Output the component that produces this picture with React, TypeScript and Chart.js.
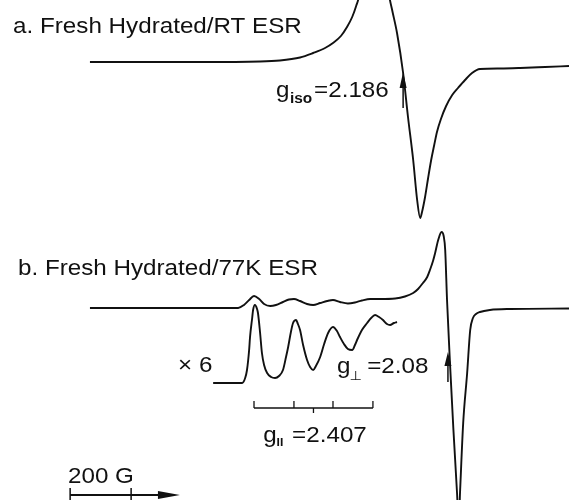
import { useEffect, useRef } from "react";
import { Chart, registerables } from "chart.js";

Chart.register(...registerables);

// ---- axes (magnetic field in gauss, vertical offset in arbitrary units) ----
const FIELD_MIN = 1800;
const FIELD_MAX = 3666;
const Y_MIN = 0;
const Y_MAX = 500;

// ---- a. Fresh hydrated / RT ESR (first-derivative signal) ----
const rtField = [2095, 2292, 2456, 2653, 2718, 2784, 2827, 2866, 2892, 2918, 2938, 2955, 2968, 2978, 2991, 3007, 3027, 3046, 3063, 3076, 3086, 3102, 3122, 3138, 3155, 3168, 3178, 3184, 3194, 3204, 3214, 3224, 3233, 3246, 3263, 3283, 3302, 3325, 3348, 3374, 3440, 3506, 3588, 3666];
const rtSignal = [0, 0, 0, 0.5, 1.5, 4.5, 9, 14, 19, 26, 35, 45, 56, 67, 102, 137, 152, 137, 102, 67, 52, 29, -11, -55, -98, -138, -156, -150, -135, -116, -98, -83, -70, -57, -44, -33, -26, -18, -11, -7, -6.5, -6, -5, -4];
const RT_OFFSET = 438;

// ---- b. Fresh hydrated / 77K ESR ----
const lowTField = [2095, 2456, 2581, 2600, 2617, 2633, 2650, 2666, 2686, 2705, 2728, 2748, 2764, 2784, 2807, 2827, 2850, 2873, 2892, 2915, 2941, 2964, 2987, 3014, 3046, 3096, 3128, 3155, 3171, 3187, 3201, 3210, 3220, 3227, 3237, 3248, 3255, 3260, 3266, 3276, 3287, 3299, 3304, 3309, 3319, 3332, 3342, 3351, 3361, 3374, 3407, 3473, 3666];
const lowTSignal = [0, 0, 0, 3, 8, 12, 9, 4, 2, 3, 6, 8.5, 9, 7, 4, 3, 5, 7, 8, 6, 4.5, 5.5, 7.5, 9, 9, 9.5, 11.5, 15, 19, 25, 31, 38, 47, 55, 68, 76, 72, 58, 8, -57, -122, -186, -217, -182, -115, -65, -22, -10, -6, -4, -2, -1, -0.5];
const LOWT_OFFSET = 192;

// ---- x6 expansion of the parallel region ----
const insetField = [2499, 2594, 2604, 2610, 2617, 2620, 2627, 2630, 2636, 2643, 2646, 2653, 2659, 2666, 2676, 2689, 2702, 2715, 2728, 2738, 2745, 2754, 2761, 2771, 2777, 2784, 2794, 2807, 2817, 2827, 2836, 2850, 2863, 2876, 2892, 2905, 2915, 2928, 2941, 2955, 2964, 2971, 2987, 3004, 3017, 3030, 3043, 3056, 3069, 3079, 3092, 3102];
const insetSignal = [0, 0, 5, 13, 33, 46, 65, 73, 78, 74, 70, 50, 30, 18, 10, 6, 5, 7, 13, 26, 36, 51, 60, 63, 59, 53, 38, 23, 16, 13, 17, 26, 39, 50, 56, 52, 46, 39, 34, 33, 38, 43, 53, 60, 65, 68, 66, 63, 59, 58, 60, 61];
const INSET_OFFSET = 117;

// ---- hyperfine bracket (g parallel), scale bar, g markers ----
const hyperfineLines = [2633, 2764, 2892, 3023];
const gParallelField = 2828;
const BRACKET_LEVEL = 92;
const scaleBarStart = 2030;
const scaleBarLength = 200;
const scaleBarArrowEnd = 2390;
const SCALE_LEVEL = 5;
const gIsoField = 3122;
const gPerpField = 3269;

const INK = "#111";
const FONT = '"Liberation Sans", Arial, Helvetica, sans-serif';
const TEXT_STRETCH = 1.1;

type Lbl = { text: string; field: number; y: number; font: string };
const labels: Lbl[] = [
  { text: "a. Fresh Hydrated/RT ESR", field: 1843, y: 467, font: `22px ${FONT}` },
  { text: "b. Fresh Hydrated/77K ESR", field: 1859, y: 225, font: `22px ${FONT}` },
  { text: "g", field: 2705, y: 403, font: `22px ${FONT}` },
  { text: "iso", field: 2751, y: 397, font: `bold 14px ${FONT}` },
  { text: "=2.186", field: 2830, y: 403, font: `22px ${FONT}` },
  { text: "\u00d7 6", field: 2384, y: 128, font: `22px ${FONT}` },
  { text: "g", field: 2905, y: 127, font: `22px ${FONT}` },
  { text: "\u22a5", field: 2946, y: 120, font: `13px "DejaVu Sans", sans-serif` },
  { text: "=2.08", field: 3004, y: 127, font: `22px ${FONT}` },
  { text: "g", field: 2663, y: 58, font: `22px ${FONT}` },
  { text: "II", field: 2707, y: 54, font: `bold 11px ${FONT}` },
  { text: "=2.407", field: 2758, y: 58, font: `22px ${FONT}` },
  { text: "200 G", field: 2023, y: 17, font: `22px ${FONT}` },
];

function traceData(field: number[], signal: number[], offset: number) {
  return field.map((f, i) => ({ x: f, y: offset + signal[i] }));
}

function seg(x1: number, y1: number, x2: number, y2: number, width: number) {
  return {
    data: [{ x: x1, y: y1 }, { x: x2, y: y2 }],
    borderColor: INK,
    borderWidth: width,
    pointRadius: 0,
    showLine: true,
    tension: 0,
  };
}

const annotationPlugin = {
  id: "esrAnnotations",
  afterDatasetsDraw(chart: any) {
    const { ctx } = chart;
    const xs = chart.scales.x;
    const ys = chart.scales.y;
    const X = (v: number) => xs.getPixelForValue(v);
    const Y = (v: number) => ys.getPixelForValue(v);
    ctx.save();
    ctx.fillStyle = INK;
    // upward arrow heads (g markers)
    const heads = [
      { field: gIsoField, tip: 428, len: 16, half: 3.5 },
      { field: gPerpField, tip: 148, len: 14, half: 3.5 },
    ];
    for (const h of heads) {
      const px = X(h.field);
      const tip = Y(h.tip);
      const base = Y(h.tip - h.len);
      ctx.beginPath();
      ctx.moveTo(px, tip);
      ctx.lineTo(px - h.half, base);
      ctx.lineTo(px + h.half, base);
      ctx.closePath();
      ctx.fill();
    }
    // right arrow head of the field-direction bar
    {
      const tipX = X(scaleBarArrowEnd);
      const baseX = X(scaleBarArrowEnd - 72);
      const yy = Y(SCALE_LEVEL);
      ctx.beginPath();
      ctx.moveTo(tipX, yy);
      ctx.lineTo(baseX, yy - 4);
      ctx.lineTo(baseX, yy + 4);
      ctx.closePath();
      ctx.fill();
    }
    ctx.textAlign = "left";
    ctx.textBaseline = "alphabetic";
    for (const l of labels) {
      ctx.font = l.font;
      ctx.save();
      ctx.translate(X(l.field), Y(l.y));
      ctx.scale(TEXT_STRETCH, 1);
      ctx.fillText(l.text, 0, 0);
      ctx.restore();
    }
    ctx.restore();
  },
};

export default function App() {
  const ref = useRef<HTMLCanvasElement | null>(null);
  useEffect(() => {
    if (!ref.current) return;
    const traceStyle = {
      borderColor: INK,
      borderWidth: 1.9,
      pointRadius: 0,
      showLine: true,
      cubicInterpolationMode: "monotone" as const,
    };
    const datasets: any[] = [
      { label: "a. RT", data: traceData(rtField, rtSignal, RT_OFFSET), ...traceStyle },
      { label: "b. 77K", data: traceData(lowTField, lowTSignal, LOWT_OFFSET), ...traceStyle },
      { label: "x6", data: traceData(insetField, insetSignal, INSET_OFFSET), ...traceStyle },
      // bracket
      seg(hyperfineLines[0], BRACKET_LEVEL, hyperfineLines[hyperfineLines.length - 1], BRACKET_LEVEL, 1.5),
      ...hyperfineLines.map((f) => seg(f, BRACKET_LEVEL, f, BRACKET_LEVEL + 7, 1.3)),
      seg(gParallelField, BRACKET_LEVEL, gParallelField, BRACKET_LEVEL - 5, 1.3),
      // scale bar
      seg(scaleBarStart, SCALE_LEVEL, scaleBarArrowEnd - 60, SCALE_LEVEL, 1.8),
      seg(scaleBarStart, SCALE_LEVEL + 7, scaleBarStart, SCALE_LEVEL - 6, 1.5),
      seg(scaleBarStart + scaleBarLength, SCALE_LEVEL + 7, scaleBarStart + scaleBarLength, SCALE_LEVEL - 6, 1.5),
      // g marker shafts
      seg(gIsoField, 392, gIsoField, 420, 1.5),
      seg(gPerpField, 118, gPerpField, 140, 1.5),
    ];
    const chart = new Chart(ref.current, {
      type: "scatter",
      data: { datasets },
      options: {
        animation: false,
        responsive: false,
        devicePixelRatio: 1,
        layout: { padding: 0 },
        plugins: { legend: { display: false }, tooltip: { enabled: false } },
        scales: {
          x: { type: "linear", min: FIELD_MIN, max: FIELD_MAX, display: false },
          y: { type: "linear", min: Y_MIN, max: Y_MAX, display: false },
        },
      },
      plugins: [annotationPlugin],
    });
    return () => chart.destroy();
  }, []);
  return (
    <div style={{ position: "fixed", left: 0, top: 0, width: 569, height: 500, background: "#fff" }}>
      <canvas ref={ref} width={569} height={500} />
    </div>
  );
}
